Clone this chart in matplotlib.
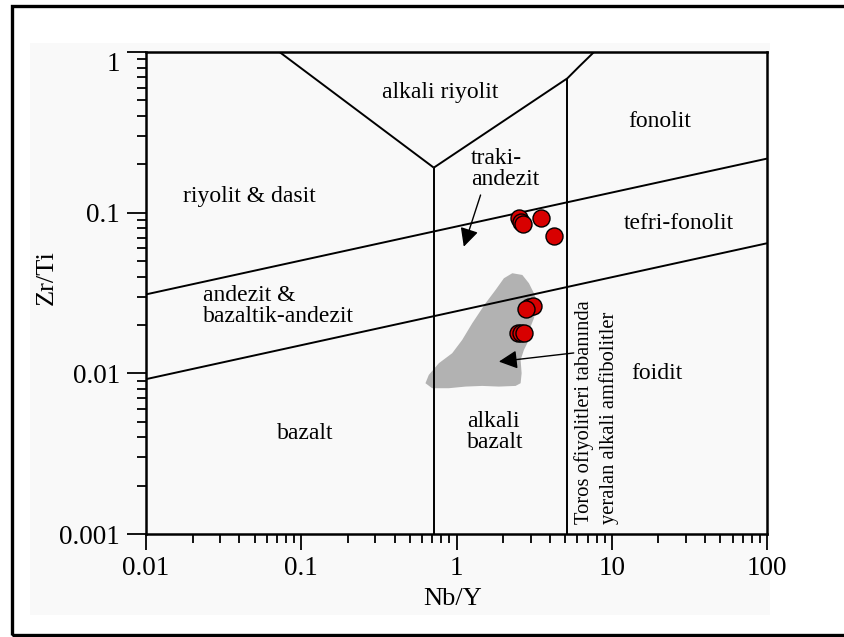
import numpy as np
import matplotlib
matplotlib.use("Agg")
import matplotlib.pyplot as plt
from matplotlib.ticker import FixedLocator, LogLocator, NullFormatter
from matplotlib.patches import Rectangle, Polygon

plt.rcParams['font.family'] = ['Liberation Serif', 'DejaVu Serif']

# === DATA ===
# sample points (Nb/Y, Zr/Ti)
nb_y = [2.52, 2.60, 2.67, 3.48, 4.22, 2.95, 3.09, 2.80, 2.49, 2.62, 2.73]
zr_ti = [0.0923, 0.0880, 0.0851, 0.0923, 0.0719, 0.0258, 0.0263, 0.0251, 0.0178, 0.0178, 0.0178]

# grey field: Toros ofiyolitleri alkali amfibolitler
field_x = [2.288, 2.654, 2.928, 3.153, 3.316, 3.153, 3.002, 2.928, 2.718, 2.588,
           2.627, 2.588, 2.402, 1.875, 1.465, 1.143, 0.892, 0.697, 0.631, 0.663,
           0.769, 0.938, 1.088, 1.263, 1.539, 1.785, 2.020]
field_y = [0.04198, 0.04096, 0.03636, 0.03150, 0.02731, 0.02203, 0.01953, 0.01614, 0.01398, 0.01212,
           0.01001, 0.00868, 0.00835, 0.00827, 0.00835, 0.00827, 0.00808, 0.00808, 0.00868, 0.00977,
           0.01155, 0.01334, 0.01614, 0.02050, 0.02731, 0.03304, 0.03906]

# field boundaries
b1_x = [0.0724, 0.714]          # top-left diagonal to vertex
b1_y = [1.0, 0.1906]
b2_x = [0.714, 5.18, 6.15, 7.69]  # vertex up to the right
b2_y = [0.1906, 0.686, 0.810, 1.0]
v1_x = [0.714, 0.714]
v1_y = [0.1906, 0.001]
v2_x = [5.18, 5.18]
v2_y = [0.686, 0.001]
up_x = [0.01, 100]
up_y = [0.031, 0.217]
lo_x = [0.01, 100]
lo_y = [0.0092, 0.0645]

x_ticks = [0.01, 0.1, 1, 10, 100]
x_ticklabels = ['0.01', '0.1', '1', '10', '100']
y_ticks = [0.001, 0.01, 0.1, 1]
y_ticklabels = ['0.001', '0.01', '0.1', '1']

# region labels: text, x, y, alignment
labels = [
    ('alkali riyolit', 0.789, 0.556, 'center'),
    ('fonolit', 20.3, 0.368, 'center'),
    ('traki-\nandezit', 1.236, 0.187, 'left'),
    ('tefri-fonolit', 26.9, 0.0859, 'center'),
    ('riyolit & dasit', 0.0466, 0.1258, 'center'),
    ('andezit &\nbazaltik-andezit', 0.0233, 0.0261, 'left'),
    ('bazalt', 0.1062, 0.00424, 'center'),
    ('alkali\nbazalt', 1.767, 0.00432, 'center'),
    ('foidit', 19.6, 0.01002, 'center'),
]

# === PLOT ===
fig = plt.figure(figsize=(8.44, 6.37), dpi=100)
fig.patches.append(Rectangle((30 / 844, 22 / 637), 740 / 844, 572 / 637, transform=fig.transFigure,
                             facecolor='#f9f9f9', edgecolor='none', zorder=-10))
fig.patches.append(Rectangle((11.5 / 844, 2 / 637), 860 / 844, 629.5 / 637, transform=fig.transFigure,
                             facecolor='none', edgecolor='black', lw=2.4, zorder=5))

ax = fig.add_axes([146 / 844, 103 / 637, 621 / 844, 482 / 637])
ax.set_facecolor('none')
ax.set_xscale('log')
ax.set_yscale('log')
ax.set_xlim(0.01, 100)
ax.set_ylim(0.001, 1)

ax.add_patch(Polygon(list(zip(field_x, field_y)), closed=True, facecolor='#b2b2b2',
                     edgecolor='none', zorder=1))

for xs, ys in [(b1_x, b1_y), (b2_x, b2_y), (v1_x, v1_y), (v2_x, v2_y), (up_x, up_y), (lo_x, lo_y)]:
    ax.plot(xs, ys, color='black', lw=1.4, zorder=2, solid_capstyle='butt')

ax.scatter(nb_y, zr_ti, s=150, facecolor='#d80000', edgecolor='black', linewidth=1.0, zorder=4)

for txt, x, y, ha in labels:
    ax.text(x, y, txt, ha=ha, va='center', fontsize=17, multialignment='left',
            linespacing=1.0, zorder=3)

ax.text(8.0, 0.00115, 'Toros ofiyolitleri tabanında\nyeralan alkali amfibolitler',
        rotation=90, ha='center', va='bottom', fontsize=14.8, multialignment='left',
        linespacing=1.3, zorder=3)

arrow = dict(arrowstyle='-|>', color='black', lw=1.0, mutation_scale=28, shrinkA=0, shrinkB=0)
ax.annotate('', xy=(1.114, 0.0614), xytext=(1.429, 0.1288), arrowprops=arrow, zorder=3)
ax.annotate('', xy=(1.875, 0.01183), xytext=(5.69, 0.01339), arrowprops=arrow, zorder=3)

ax.xaxis.set_major_locator(FixedLocator(x_ticks))
ax.set_xticklabels(x_ticklabels)
ax.yaxis.set_major_locator(FixedLocator(y_ticks))
ax.set_yticklabels(y_ticklabels)
ax.xaxis.set_minor_locator(LogLocator(base=10, subs=np.arange(2, 10)))
ax.yaxis.set_minor_locator(LogLocator(base=10, subs=np.arange(2, 10)))
ax.xaxis.set_minor_formatter(NullFormatter())
ax.yaxis.set_minor_formatter(NullFormatter())

ax.tick_params(axis='both', which='both', direction='out', width=1.3, labelsize=19.5,
               top=False, right=False)
ax.tick_params(axis='x', which='major', length=11.5, pad=4)
ax.tick_params(axis='y', which='major', length=13.7, pad=5)
ax.tick_params(axis='both', which='minor', length=6.5)
ax.get_yticklabels()[-1].set_va('top')

for s in ax.spines.values():
    s.set_linewidth(1.8)

ax.set_xlabel('Nb/Y', fontsize=19)
ax.set_ylabel('Zr/Ti', fontsize=19)
ax.xaxis.set_label_coords(0.493, -0.112)
ax.yaxis.set_label_coords(-0.143, 0.532)

plt.savefig('out.png', dpi=100)
